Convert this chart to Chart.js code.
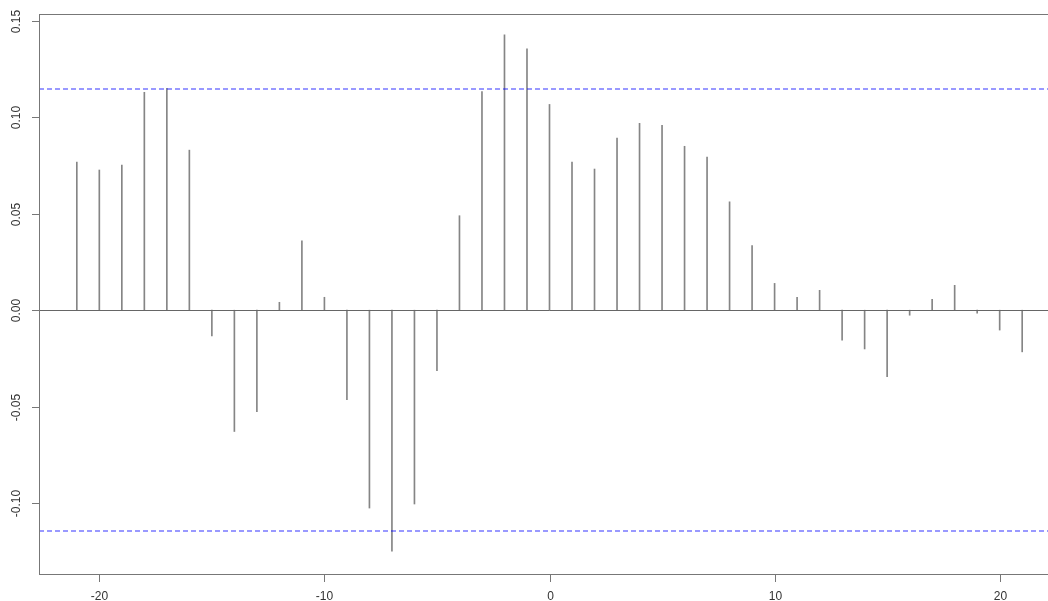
<!DOCTYPE html>
<html>
<head>
<meta charset="utf-8">
<script src="https://cdn.jsdelivr.net/npm/chart.js@4/dist/chart.umd.min.js"></script>
<style>
  html, body { margin: 0; padding: 0; background: #fff; overflow: hidden; }
  #wrap { width: 1070px; height: 601px; }
</style>
</head>
<body>
<div id="wrap"><canvas id="ccf"></canvas></div>
<script>
  // cross-correlation by lag
  const lags = [-21, -20, -19, -18, -17, -16, -15, -14, -13, -12, -11, -10, -9, -8, -7, -6, -5, -4, -3, -2, -1,
    0, 1, 2, 3, 4, 5, 6, 7, 8, 9, 10, 11, 12, 13, 14, 15, 16, 17, 18, 19, 20, 21];
  const ccfValues = [0.0768, 0.0727, 0.0753, 0.1130, 0.1150, 0.0830, -0.0134, -0.0629, -0.0526, 0.0041, 0.0360, 0.0067,
    -0.0464, -0.1026, -0.1250, -0.1005, -0.0314, 0.0490, 0.1134, 0.1428, 0.1356,
    0.1067, 0.0768, 0.0732, 0.0892, 0.0969, 0.0959, 0.0850, 0.0794, 0.0562, 0.0335, 0.0139, 0.0067, 0.0103,
    -0.0155, -0.0201, -0.0345, -0.0026, 0.0057, 0.0129, -0.0015, -0.0103, -0.0216];
  const ciBound = 0.1145;
  const xTicks = [-20, -10, 0, 10, 20];
  const yTicks = [-0.10, -0.05, 0.00, 0.05, 0.10, 0.15];
  const xRange = [-22.68, 22.68];
  const yRange = [-0.1368, 0.1536];

  const FONT = "12px 'Liberation Sans', Arial, sans-serif";
  const AXIS_COLOR = '#777';
  const CI_COLOR = 'rgba(0, 0, 255, 0.8)';

  // zero line + confidence bands
  const refLines = {
    id: 'refLines',
    afterDatasetsDraw(chart) {
      const { ctx, chartArea: a, scales: { y } } = chart;
      const draw = (val, color, dash, snap) => {
        const py = Math.round(y.getPixelForValue(val)) + snap;
        ctx.save();
        ctx.strokeStyle = color;
        ctx.lineWidth = 1;
        ctx.setLineDash(dash);
        ctx.beginPath();
        ctx.moveTo(a.left, py);
        ctx.lineTo(a.right, py);
        ctx.stroke();
        ctx.restore();
      };
      draw(0, '#666', [], 0.5);
      draw(ciBound, CI_COLOR, [5, 3], 0);
      draw(-ciBound, CI_COLOR, [5, 3], 0);
    }
  };

  // box, ticks and labels drawn the R way
  const rAxes = {
    id: 'rAxes',
    afterDraw(chart) {
      const { ctx, chartArea: a, scales: { x, y } } = chart;
      ctx.save();
      ctx.strokeStyle = AXIS_COLOR;
      ctx.lineWidth = 1;
      ctx.strokeRect(Math.round(a.left) + 0.5, Math.round(a.top) + 0.5, Math.round(a.right - a.left), Math.round(a.bottom - a.top));
      ctx.fillStyle = '#333';
      ctx.font = FONT;

      xTicks.forEach(v => {
        const px = Math.round(x.getPixelForValue(v)) + 0.5;
        ctx.beginPath();
        ctx.moveTo(px, a.bottom);
        ctx.lineTo(px, a.bottom + 8);
        ctx.stroke();
        ctx.textAlign = 'center';
        ctx.textBaseline = 'middle';
        ctx.fillText(String(v), px, a.bottom + 23);
      });

      yTicks.forEach(v => {
        const py = Math.round(y.getPixelForValue(v)) + 0.5;
        ctx.beginPath();
        ctx.moveTo(a.left, py);
        ctx.lineTo(a.left - 7, py);
        ctx.stroke();
        ctx.save();
        ctx.translate(a.left - 22, py);
        ctx.rotate(-Math.PI / 2);
        ctx.textAlign = 'center';
        ctx.textBaseline = 'middle';
        ctx.fillText(v.toFixed(2), 0, 0);
        ctx.restore();
      });
      ctx.restore();
    }
  };

  new Chart(document.getElementById('ccf'), {
    type: 'bar',
    data: {
      datasets: [{
        data: lags.map((l, i) => ({ x: l, y: [0, ccfValues[i]] })),
        backgroundColor: '#858585',
        barThickness: 1,
        borderWidth: 0
      }]
    },
    options: {
      responsive: true,
      maintainAspectRatio: false,
      animation: false,
      layout: { padding: { left: 39, top: 14, right: 10, bottom: 27 } },
      plugins: { legend: { display: false }, tooltip: { enabled: false } },
      scales: {
        x: { type: 'linear', min: xRange[0], max: xRange[1], display: false, offset: false },
        y: { type: 'linear', min: yRange[0], max: yRange[1], display: false }
      }
    },
    plugins: [refLines, rAxes]
  });
</script>
</body>
</html>
